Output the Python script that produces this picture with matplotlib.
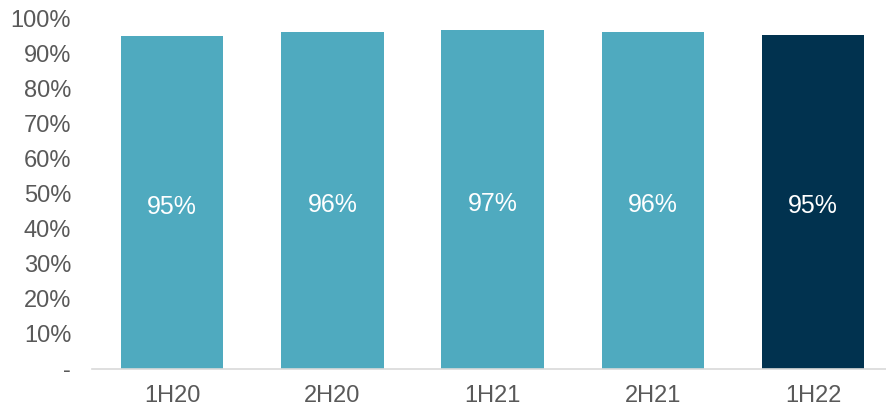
import numpy as np
import matplotlib.pyplot as plt
from matplotlib.ticker import FuncFormatter

plt.rcParams['font.family'] = ['Liberation Sans', 'DejaVu Sans']

periods = ['1H20', '2H20', '1H21', '2H21', '1H22']
values = [95.1, 96.2, 96.8, 96.2, 95.4]
labels = ['95%', '96%', '97%', '96%', '95%']
colors = ['#4FAABF', '#4FAABF', '#4FAABF', '#4FAABF', '#01324F']

fig = plt.figure(figsize=(8.86, 4.11), dpi=100)
ax = fig.add_axes([0.1038, 0.1022, 0.8962, 0.8516])

x = np.arange(len(periods))
bars = ax.bar(x, values, width=0.64, color=colors)

# value labels sit in the middle of each bar
for xi, v, lab in zip(x, values, labels):
    ax.text(xi, v / 2 - 1.2, lab, ha='center', va='center', color='white', fontsize=18)

ax.set_ylim(0, 100)
ax.set_xlim(-0.5, 4.455)
ax.set_yticks(np.arange(0, 101, 10))
ax.yaxis.set_major_formatter(FuncFormatter(lambda v, p: '-' if v == 0 else f'{v:.0f}%'))
ax.set_xticks(x)
ax.set_xticklabels(periods)

for s in ['top', 'right', 'left']:
    ax.spines[s].set_visible(False)
ax.spines['bottom'].set_color('#D9D9D9')
ax.spines['bottom'].set_linewidth(1.2)
ax.tick_params(axis='both', length=0, labelsize=17, colors='#595959')
ax.tick_params(axis='y', pad=15)
ax.tick_params(axis='x', pad=11.5)

fig.savefig('out.png', dpi=100)
